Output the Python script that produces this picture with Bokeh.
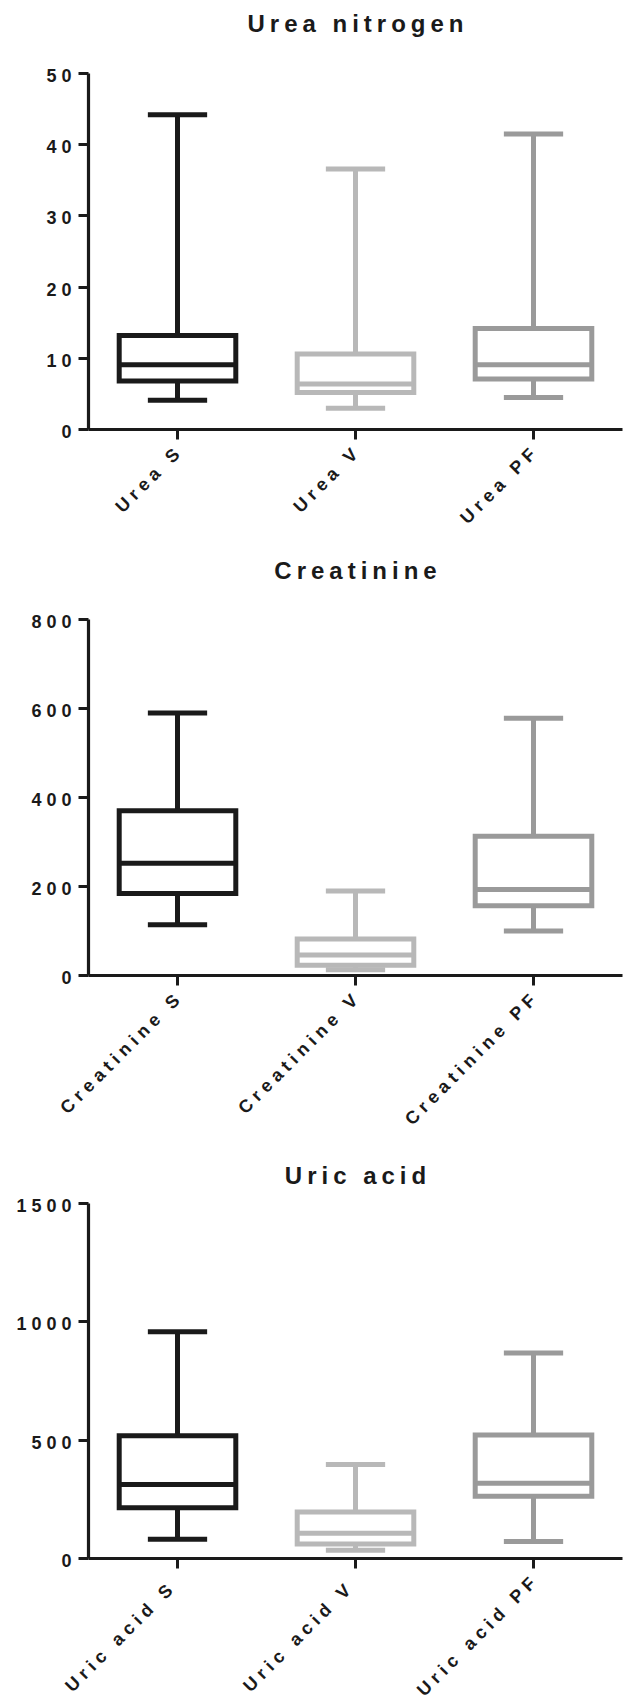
import math
import numpy as np
from bokeh.plotting import figure
from bokeh.layouts import column
from bokeh.models import Range1d, FixedTicker, InlineStyleSheet
from bokeh.core.properties import value
from bokeh.embed import file_html
from bokeh.resources import INLINE

# ---------------- data ----------------
colors = ["#1a1a1a", "#b8b8b8", "#9a9a9a"]

urea_title = "Urea nitrogen"
urea_labels = ["Urea S", "Urea V", "Urea PF"]
urea_min = [4.1, 3.0, 4.5]
urea_q1 = [6.8, 5.2, 7.1]
urea_med = [9.1, 6.4, 9.1]
urea_q3 = [13.2, 10.6, 14.2]
urea_max = [44.2, 36.6, 41.5]
urea_ticks = [0, 10, 20, 30, 40, 50]

creat_title = "Creatinine"
creat_labels = ["Creatinine S", "Creatinine V", "Creatinine PF"]
creat_min = [114, 13, 100]
creat_q1 = [184, 23, 157]
creat_med = [252, 46, 193]
creat_q3 = [370, 82, 313]
creat_max = [590, 190, 578]
creat_ticks = [0, 200, 400, 600, 800]

uric_title = "Uric acid"
uric_labels = ["Uric acid  S", "Uric acid  V", "Uric acid PF"]
uric_min = [81, 35, 72]
uric_q1 = [214, 61, 263]
uric_med = [313, 107, 318]
uric_q3 = [519, 196, 522]
uric_max = [958, 397, 868]
uric_ticks = [0, 500, 1000, 1500]

# ---------------- style ----------------
FONT = "Liberation Sans"
INK = "#1a1a1a"
SP = 5            # letter spacing (px)
BOX_W = 0.655
CAP_W = 0.333
C45 = math.cos(math.pi / 4)


def txt(p, x, y, text, xo, yo, align, angle=0.0, size="18px"):
    r = p.text(x=x, y=y, text=text, x_offset=xo, y_offset=yo, angle=angle,
               text_align=align, text_baseline="middle",
               text_font=value(FONT), text_font_style="bold",
               text_font_size=size, text_color=INK)
    r.level = "overlay"
    return r


def make_panel(title, labels, mins, q1s, meds, q3s, maxs, ticks,
               height, border_top, border_bottom, title_gap):
    xs = np.arange(1, len(labels) + 1, dtype=float)
    sheet = InlineStyleSheet(
        css=":host { letter-spacing: %dpx; white-space: pre; }" % SP)
    p = figure(width=625, height=height, output_backend="svg",
               toolbar_location=None, tools="",
               x_range=Range1d(0.5, len(labels) + 0.5),
               y_range=Range1d(ticks[0], ticks[-1]),
               min_border_left=88, min_border_right=3,
               min_border_top=border_top, min_border_bottom=border_bottom,
               stylesheets=[sheet])
    p.outline_line_color = None
    p.xgrid.visible = False
    p.ygrid.visible = False
    p.background_fill_color = "white"
    p.border_fill_color = "white"

    for ax in (p.xaxis[0], p.yaxis[0]):
        ax.axis_line_width = 3.2
        ax.axis_line_color = INK
        ax.major_tick_line_width = 3
        ax.major_tick_line_color = INK
        ax.major_tick_out = 10
        ax.major_tick_in = 0
        ax.minor_tick_line_color = None
        ax.major_label_text_font_size = "1px"

    p.yaxis.ticker = FixedTicker(ticks=ticks)
    p.yaxis.major_label_overrides = {t: "" for t in ticks}
    p.xaxis.ticker = FixedTicker(ticks=list(xs))
    p.xaxis.major_label_overrides = {float(x): "" for x in xs}

    lw = 5
    # whiskers
    p.segment(x0=xs, y0=q3s, x1=xs, y1=maxs, line_color=colors, line_width=lw)
    p.segment(x0=xs, y0=mins, x1=xs, y1=q1s, line_color=colors, line_width=lw)
    # caps
    p.segment(x0=xs - CAP_W / 2, y0=maxs, x1=xs + CAP_W / 2, y1=maxs,
              line_color=colors, line_width=lw)
    p.segment(x0=xs - CAP_W / 2, y0=mins, x1=xs + CAP_W / 2, y1=mins,
              line_color=colors, line_width=lw)
    # boxes
    p.vbar(x=xs, width=BOX_W, bottom=q1s, top=q3s, fill_color="white",
           line_color=colors, line_width=lw, line_join="miter")
    # medians
    p.segment(x0=xs - BOX_W / 2, y0=meds, x1=xs + BOX_W / 2, y1=meds,
              line_color=colors, line_width=lw)

    # y tick labels (letter-spaced, right aligned)
    ytxt = [str(t) for t in ticks]
    txt(p, [0.5] * len(ticks), ticks, ytxt,
        [-17 - (len(t) - 1) * SP for t in ytxt], [2] * len(ticks), "right")

    # x tick labels (rotated 45 degrees)
    txt(p, xs, [ticks[0]] * len(xs), labels,
        [-1 - (len(t) - 1) * SP * C45 for t in labels],
        [22 + (len(t) - 1) * SP * C45 for t in labels],
        "right", angle=math.pi / 4)

    # title
    txt(p, [(len(labels) + 1) / 2], [ticks[-1]], [title],
        [-(len(title) - 1) * SP / 2], [-title_gap], "center", size="24px")
    return p


p1 = make_panel(urea_title, urea_labels, urea_min, urea_q1, urea_med, urea_q3,
                urea_max, urea_ticks, height=555, border_top=73,
                border_bottom=126, title_gap=50)
p2 = make_panel(creat_title, creat_labels, creat_min, creat_q1, creat_med,
                creat_q3, creat_max, creat_ticks, height=603, border_top=64,
                border_bottom=183, title_gap=49)
p3 = make_panel(uric_title, uric_labels, uric_min, uric_q1, uric_med, uric_q3,
                uric_max, uric_ticks, height=538, border_top=45,
                border_bottom=138, title_gap=28)

layout = column(p1, p2, p3, spacing=0)
open("out.html", "w").write(file_html(layout, INLINE))
